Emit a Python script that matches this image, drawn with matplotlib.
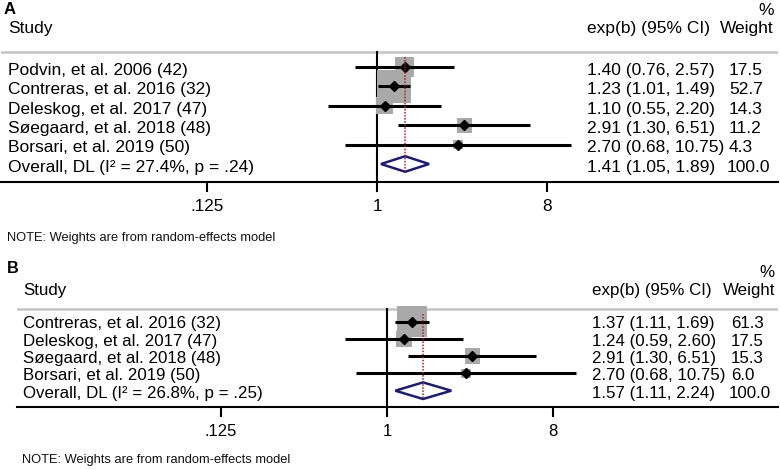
import matplotlib
matplotlib.use("Agg")
import matplotlib.pyplot as plt
import matplotlib.transforms as mtransforms
import numpy as np
from matplotlib.ticker import NullLocator

plt.rcParams["font.family"] = ["Liberation Sans", "DejaVu Sans"]

W, H = 780, 469

# panel A data
studies_a = [
    "Podvin, et al. 2006 (42)",
    "Contreras, et al. 2016 (32)",
    "Deleskog, et al. 2017 (47)",
    "Søegaard, et al. 2018 (48)",
    "Borsari, et al. 2019 (50)",
]
es_a = [1.40, 1.23, 1.10, 2.91, 2.70]
lo_a = [0.76, 1.01, 0.55, 1.30, 0.68]
hi_a = [2.57, 1.49, 2.20, 6.51, 10.75]
wt_a = [17.5, 52.7, 14.3, 11.2, 4.3]
overall_a = [1.41, 1.05, 1.89]
i2_a, p_a = 27.4, ".24"

# panel B data
studies_b = [
    "Contreras, et al. 2016 (32)",
    "Deleskog, et al. 2017 (47)",
    "Søegaard, et al. 2018 (48)",
    "Borsari, et al. 2019 (50)",
]
es_b = [1.37, 1.24, 2.91, 2.70]
lo_b = [1.11, 0.59, 1.30, 0.68]
hi_b = [1.69, 2.60, 6.51, 10.75]
wt_b = [61.3, 17.5, 15.3, 6.0]
overall_b = [1.57, 1.11, 2.24]
i2_b, p_b = 26.8, ".25"

ticks = [0.125, 1, 8]
tick_labels = [".125", "1", "8"]
note = "NOTE: Weights are from random-effects model"

# pixel layout of each panel
lay_a = dict(left=1, right=778, top=0, bottom=182, row0=67, step=19.4,
             x_one=377, ppd=56.7, grey=52, fs=12.5, box_k=4.6, dia_h=0.4,
             letter=(4, 14), study=(8, 33), pct=15, es_x=587, wt_x=729, wt_r=774,
             note=(7, 241), lab_off=0.4)
lay_b = dict(left=17, right=778, top=250, bottom=407, row0=321.5, step=17.3,
             x_one=387, ppd=55.3, grey=309, fs=12.2, box_k=3.9, dia_h=0.48,
             letter=(7, 273), study=(23, 295), pct=277, es_x=592, wt_x=731, wt_r=775,
             note=(22, 463), lab_off=0.4)


def draw_panel(fig, lay, letter, studies, es, lo, hi, wt, overall, i2, p):
    l, r, t, b = lay["left"], lay["right"], lay["top"], lay["bottom"]
    ax = fig.add_axes([l / W, 1 - b / H, (r - l) / W, (b - t) / H])

    def yd(px):
        return (px - lay["row0"]) / lay["step"]

    def xf(px):
        return (px - l) / (r - l)

    ax.set_xscale("log", base=2)
    ax.set_xlim(2 ** ((l - lay["x_one"]) / lay["ppd"]), 2 ** ((r - lay["x_one"]) / lay["ppd"]))
    ax.set_ylim(yd(b), yd(t))

    n = len(studies)
    ys = np.arange(n)
    fs = lay["fs"]

    # separators and line of no effect
    ax.axhline(yd(lay["grey"]), color="#c4c4c4", lw=1.8, zorder=1)
    ax.plot([1, 1], [yd(lay["grey"]), yd(b)], color="black", lw=1.5, zorder=1)

    # study boxes, CIs and points
    sizes = (lay["box_k"] * np.sqrt(wt) * 0.72) ** 2
    ax.scatter(es, ys, marker="s", s=sizes, color="#a9a9a9", linewidths=0, zorder=2)
    ax.hlines(ys, lo, hi, color="black", lw=2.2, zorder=3)
    ax.plot(es, ys, "D", color="black", ms=4.6, zorder=4)

    # overall diamond and dotted line
    est, olo, ohi = overall
    h = lay["dia_h"]
    ax.fill([olo, est, ohi, est], [n, n - h, n, n + h], facecolor="white",
            edgecolor="#1c1c78", lw=1.8, zorder=3)
    ax.plot([est, est], [yd(lay["grey"] + 5), n + h], color="#a82020",
            ls=(0, (1, 1)), lw=1.1, zorder=5)

    # axis styling
    for s in ("top", "left", "right"):
        ax.spines[s].set_visible(False)
    ax.spines["bottom"].set_linewidth(1.5)
    ax.set_yticks([])
    ax.set_xticks(ticks)
    ax.set_xticklabels(tick_labels)
    ax.xaxis.set_minor_locator(NullLocator())
    ax.tick_params(axis="x", length=7.5, width=1.5, pad=5, labelsize=fs - 0.2)

    tr = mtransforms.blended_transform_factory(ax.transAxes, ax.transData)
    off = lay["lab_off"]

    # headers
    ax.text(xf(lay["letter"][0]), yd(lay["letter"][1]), letter, transform=tr,
            fontsize=fs - 0.5, fontweight="bold", va="baseline")
    ax.text(xf(lay["study"][0]), yd(lay["study"][1]), "Study", transform=tr,
            fontsize=fs, va="baseline")
    ax.text(xf(lay["es_x"]), yd(lay["study"][1]), "exp(b) (95% CI)", transform=tr,
            fontsize=fs, va="baseline")
    ax.text(xf(lay["wt_r"]), yd(lay["study"][1]), "Weight", transform=tr,
            fontsize=fs, va="baseline", ha="right")
    ax.text(xf(lay["wt_r"]), yd(lay["pct"]), "%", transform=tr,
            fontsize=fs, va="baseline", ha="right")

    # rows
    for i, name in enumerate(studies):
        ax.text(xf(lay["study"][0]), i + off, name, transform=tr, fontsize=fs, va="baseline")
        ax.text(xf(lay["es_x"]), i + off, f"{es[i]:.2f} ({lo[i]:.2f}, {hi[i]:.2f})",
                transform=tr, fontsize=fs, va="baseline")
        ax.text(xf(lay["wt_x"]), i + off, f"{wt[i]:.1f}", transform=tr,
                fontsize=fs, va="baseline")
    ax.text(xf(lay["study"][0]), n + off, f"Overall, DL (I² = {i2:.1f}%, p = {p})",
            transform=tr, fontsize=fs, va="baseline")
    ax.text(xf(lay["es_x"]), n + off, f"{est:.2f} ({olo:.2f}, {ohi:.2f})",
            transform=tr, fontsize=fs, va="baseline")
    ax.text(xf(lay["wt_x"] - 2), n + off, "100.0", transform=tr, fontsize=fs, va="baseline")

    ax.text(xf(lay["note"][0]), yd(lay["note"][1]), note, transform=tr,
            fontsize=9.3, va="baseline", color="#111111")
    return ax


fig = plt.figure(figsize=(W / 100, H / 100), dpi=100)
draw_panel(fig, lay_a, "A", studies_a, es_a, lo_a, hi_a, wt_a, overall_a, i2_a, p_a)
draw_panel(fig, lay_b, "B", studies_b, es_b, lo_b, hi_b, wt_b, overall_b, i2_b, p_b)
fig.savefig("out.png", dpi=100)
